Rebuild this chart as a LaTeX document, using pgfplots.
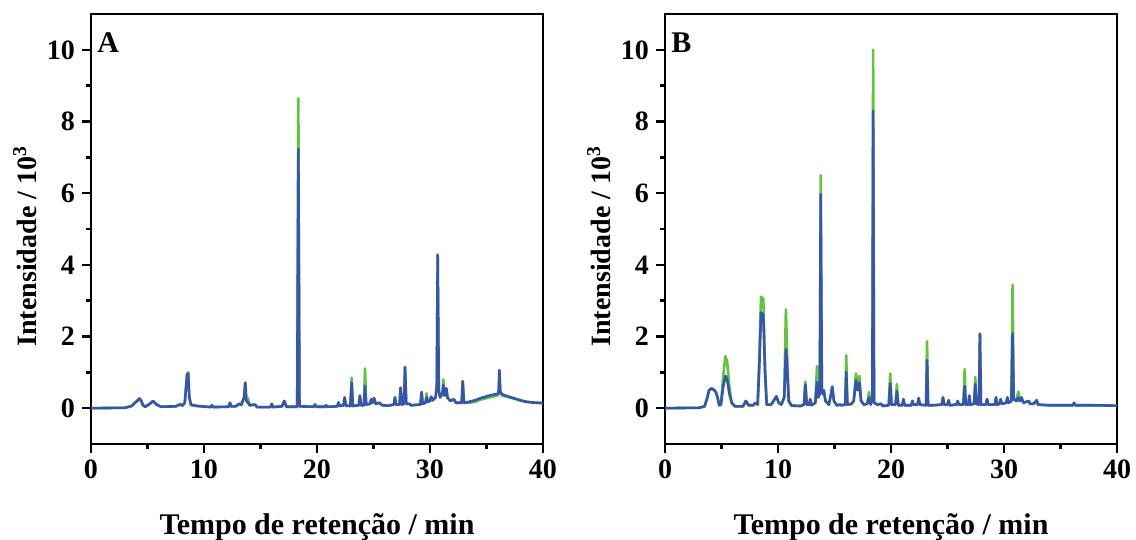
\documentclass[border=0pt]{standalone}
\usepackage{fontspec}
\setmainfont{Liberation Serif}
\usepackage{pgfplots}
\usepackage{pgfplotstable}
\pgfplotsset{compat=1.18}

\definecolor{cgreen}{RGB}{98,196,62}
\definecolor{cblue}{RGB}{55,85,175}

% retention time, green trace, blue trace (intensity / 10^3)
\pgfplotstableread{
t g b
0 0 0
3.0 0.01 0.01
3.6 0.06 0.06
4.0 0.18 0.18
4.3 0.27 0.27
4.45 0.2 0.2
4.6 0.08 0.08
4.8 0.04 0.04
5.2 0.12 0.12
5.5 0.2 0.2
5.8 0.1 0.1
6.2 0.04 0.04
7.5 0.05 0.05
7.9 0.12 0.1
8.1 0.06 0.08
8.3 0.15 0.15
8.5 0.95 0.92
8.6 1.0 0.97
8.7 0.3 0.3
8.85 0.08 0.1
9.4 0.06 0.06
10.6 0.03 0.03
10.7 0.08 0.08
10.8 0.03 0.03
12.2 0.04 0.04
12.3 0.15 0.15
12.4 0.05 0.05
12.8 0.05 0.05
13.1 0.12 0.12
13.3 0.08 0.1
13.55 0.3 0.3
13.65 0.71 0.71
13.75 0.2 0.2
13.9 0.28 0.15
14.05 0.08 0.08
14.5 0.1 0.1
14.7 0.03 0.03
15.9 0.03 0.03
16.0 0.12 0.12
16.1 0.03 0.03
16.9 0.05 0.05
17.1 0.2 0.2
17.3 0.04 0.04
18.25 0.04 0.04
18.35 8.65 7.23
18.45 0.05 0.05
19.7 0.04 0.04
19.82 0.12 0.08
19.95 0.04 0.04
20.7 0.04 0.04
20.8 0.08 0.08
20.9 0.04 0.04
21.8 0.05 0.05
21.9 0.16 0.16
22.0 0.06 0.06
22.35 0.08 0.08
22.45 0.3 0.3
22.55 0.07 0.07
22.95 0.06 0.06
23.07 0.85 0.71
23.17 0.06 0.06
23.7 0.08 0.08
23.8 0.35 0.35
23.9 0.08 0.08
24.15 0.08 0.08
24.25 1.11 0.62
24.35 0.1 0.1
24.7 0.12 0.12
24.8 0.25 0.25
24.9 0.15 0.15
25.05 0.28 0.28
25.2 0.12 0.12
25.5 0.15 0.15
25.8 0.08 0.08
26.3 0.07 0.07
26.8 0.1 0.1
26.9 0.3 0.3
27.0 0.1 0.1
27.3 0.1 0.1
27.4 0.57 0.57
27.5 0.1 0.1
27.7 0.12 0.12
27.79 1.16 1.14
27.9 0.12 0.12
28.2 0.12 0.12
28.3 0.08 0.08
29.15 0.1 0.1
29.26 0.45 0.45
29.35 0.12 0.12
29.6 0.15 0.15
29.7 0.42 0.3
29.8 0.18 0.18
30.0 0.2 0.2
30.1 0.32 0.32
30.25 0.22 0.22
30.5 0.3 0.3
30.6 0.6 0.6
30.68 4.28 4.28
30.78 0.5 0.5
30.9 0.3 0.3
31.1 0.4 0.4
31.18 0.8 0.65
31.3 0.35 0.35
31.45 0.55 0.55
31.55 0.3 0.3
31.8 0.2 0.2
32.1 0.25 0.25
32.3 0.15 0.15
32.8 0.15 0.15
32.9 0.75 0.75
33.0 0.15 0.15
33.5 0.15 0.18
34.0 0.18 0.22
34.5 0.24 0.28
35.0 0.28 0.33
35.5 0.32 0.37
36.0 0.35 0.4
36.08 0.42 0.45
36.14 1.05 1.06
36.22 0.42 0.45
36.4 0.35 0.38
37.0 0.3 0.32
37.5 0.26 0.27
38.0 0.21 0.22
38.5 0.18 0.18
39.0 0.16 0.16
40.0 0.14 0.14
}\tabA

\pgfplotstableread{
t g b
0 0 0
3.0 0.01 0.01
3.5 0.05 0.05
3.75 0.3 0.3
3.9 0.5 0.5
4.1 0.55 0.55
4.3 0.52 0.52
4.5 0.45 0.45
4.65 0.3 0.3
4.8 0.08 0.08
4.95 0.1 0.1
5.15 0.9 0.6
5.35 1.45 0.9
5.5 1.3 0.8
5.7 0.6 0.4
5.9 0.15 0.15
6.2 0.05 0.05
6.9 0.05 0.05
7.15 0.2 0.2
7.4 0.08 0.08
7.8 0.08 0.08
8.0 0.15 0.15
8.2 0.1 0.1
8.35 1.5 1.2
8.5 3.11 2.67
8.7 3.05 2.6
8.85 1.2 1.0
9.0 0.1 0.1
9.4 0.1 0.1
9.7 0.25 0.25
9.86 0.33 0.33
10.05 0.15 0.15
10.3 0.1 0.1
10.55 0.3 0.3
10.7 2.76 1.65
10.8 1.6 1.2
10.95 0.2 0.2
11.2 0.07 0.07
12.0 0.06 0.06
12.3 0.1 0.1
12.42 0.74 0.65
12.55 0.1 0.1
12.75 0.1 0.1
12.85 0.25 0.25
12.95 0.08 0.08
13.3 0.15 0.15
13.45 1.17 0.73
13.55 0.3 0.3
13.7 0.4 0.4
13.78 6.5 5.97
13.88 0.5 0.5
13.95 0.4 0.4
14.05 0.5 0.5
14.2 0.2 0.2
14.5 0.1 0.1
14.7 0.4 0.4
14.8 0.6 0.6
14.95 0.2 0.2
15.2 0.08 0.08
15.5 0.1 0.1
15.6 0.08 0.08
15.95 0.1 0.1
16.04 1.48 1.01
16.14 0.1 0.1
16.5 0.12 0.12
16.7 0.2 0.2
16.9 0.97 0.78
17.05 0.6 0.5
17.2 0.9 0.72
17.35 0.2 0.2
17.6 0.1 0.1
17.9 0.12 0.12
18.05 0.45 0.3
18.2 0.1 0.1
18.35 0.3 0.3
18.42 10.0 8.3
18.5 0.15 0.15
18.8 0.1 0.1
19.1 0.12 0.12
19.3 0.06 0.06
19.8 0.08 0.08
19.93 0.97 0.69
20.05 0.1 0.1
20.4 0.1 0.1
20.52 0.67 0.47
20.65 0.08 0.08
21.0 0.08 0.08
21.1 0.25 0.25
21.2 0.08 0.08
21.8 0.08 0.08
21.9 0.2 0.2
22.0 0.1 0.1
22.35 0.1 0.1
22.45 0.28 0.28
22.55 0.1 0.1
23.1 0.08 0.08
23.19 1.87 1.34
23.28 0.08 0.08
23.7 0.08 0.08
24.5 0.1 0.1
24.6 0.3 0.3
24.7 0.1 0.1
25.0 0.1 0.1
25.1 0.22 0.22
25.2 0.08 0.08
25.8 0.1 0.1
25.9 0.2 0.2
26.0 0.1 0.1
26.4 0.1 0.1
26.52 1.09 0.61
26.62 0.1 0.1
26.85 0.1 0.1
26.93 0.35 0.35
27.02 0.1 0.1
27.35 0.12 0.12
27.46 0.87 0.67
27.55 0.12 0.12
27.78 0.1 0.1
27.87 2.08 2.08
27.96 0.1 0.1
28.4 0.1 0.1
28.5 0.25 0.25
28.6 0.1 0.1
29.2 0.1 0.1
29.29 0.3 0.3
29.38 0.1 0.1
29.6 0.12 0.12
29.7 0.25 0.25
29.8 0.12 0.12
30.2 0.15 0.15
30.3 0.3 0.3
30.4 0.15 0.15
30.65 0.2 0.2
30.76 3.44 2.09
30.86 0.25 0.25
31.1 0.2 0.2
31.26 0.46 0.3
31.4 0.2 0.2
31.55 0.3 0.3
31.7 0.15 0.15
32.2 0.2 0.2
32.3 0.12 0.12
32.6 0.12 0.12
32.9 0.22 0.22
33.0 0.1 0.1
34.0 0.08 0.08
36.1 0.08 0.08
36.2 0.15 0.15
36.3 0.08 0.08
38.0 0.08 0.08
40.0 0.07 0.07
}\tabB

\pgfplotsset{chrom/.style={
  scale only axis, width=226pt, height=215pt,
  xmin=0, xmax=40, ymin=-1, ymax=11,
  xtick={0,10,20,30,40}, minor x tick num=1,
  ytick={0,2,4,6,8,10}, minor y tick num=1,
  xtick pos=bottom, ytick pos=left,
  tick align=outside,
  major tick length=4.5pt, minor tick length=2.5pt,
  axis line style={line width=1.2pt},
  tick style={black, line width=1.2pt},
  tick label style={font=\fontsize{14}{14}\selectfont\bfseries},
  /pgf/number format/assume math mode=true,
  xlabel={Tempo de retenção / min},
  ylabel={Intensidade / 10\textsuperscript{3}},
  x label style={font=\fontsize{15}{15}\selectfont\bfseries,
    at={(axis description cs:0.5,0)}, anchor=base, yshift=-45.5pt},
  y label style={font=\fontsize{14}{14}\selectfont\bfseries,
    at={(axis description cs:-0.146,0.46)}, anchor=center},
  every axis plot/.append style={line width=1.3pt, line join=round, no markers},
}}

\begin{document}
\begin{tikzpicture}
\useasboundingbox (0,0) rectangle (568pt,270pt);
\begin{axis}[chrom, at={(45.5pt,48pt)}, anchor=south west]
  \addplot[cgreen] table[x=t, y=g] {\tabA};
  \addplot[cblue] table[x=t, y=b] {\tabA};
  \node[anchor=north west, inner sep=0pt, xshift=3pt, yshift=-9pt,
    font=\fontsize{15}{15}\selectfont\bfseries] at (rel axis cs:0,1) {A};
\end{axis}
\begin{axis}[chrom, at={(332.5pt,48pt)}, anchor=south west]
  \addplot[cgreen] table[x=t, y=g] {\tabB};
  \addplot[cblue] table[x=t, y=b] {\tabB};
  \node[anchor=north west, inner sep=0pt, xshift=3pt, yshift=-9pt,
    font=\fontsize{15}{15}\selectfont\bfseries] at (rel axis cs:0,1) {B};
\end{axis}
\end{tikzpicture}
\end{document}
